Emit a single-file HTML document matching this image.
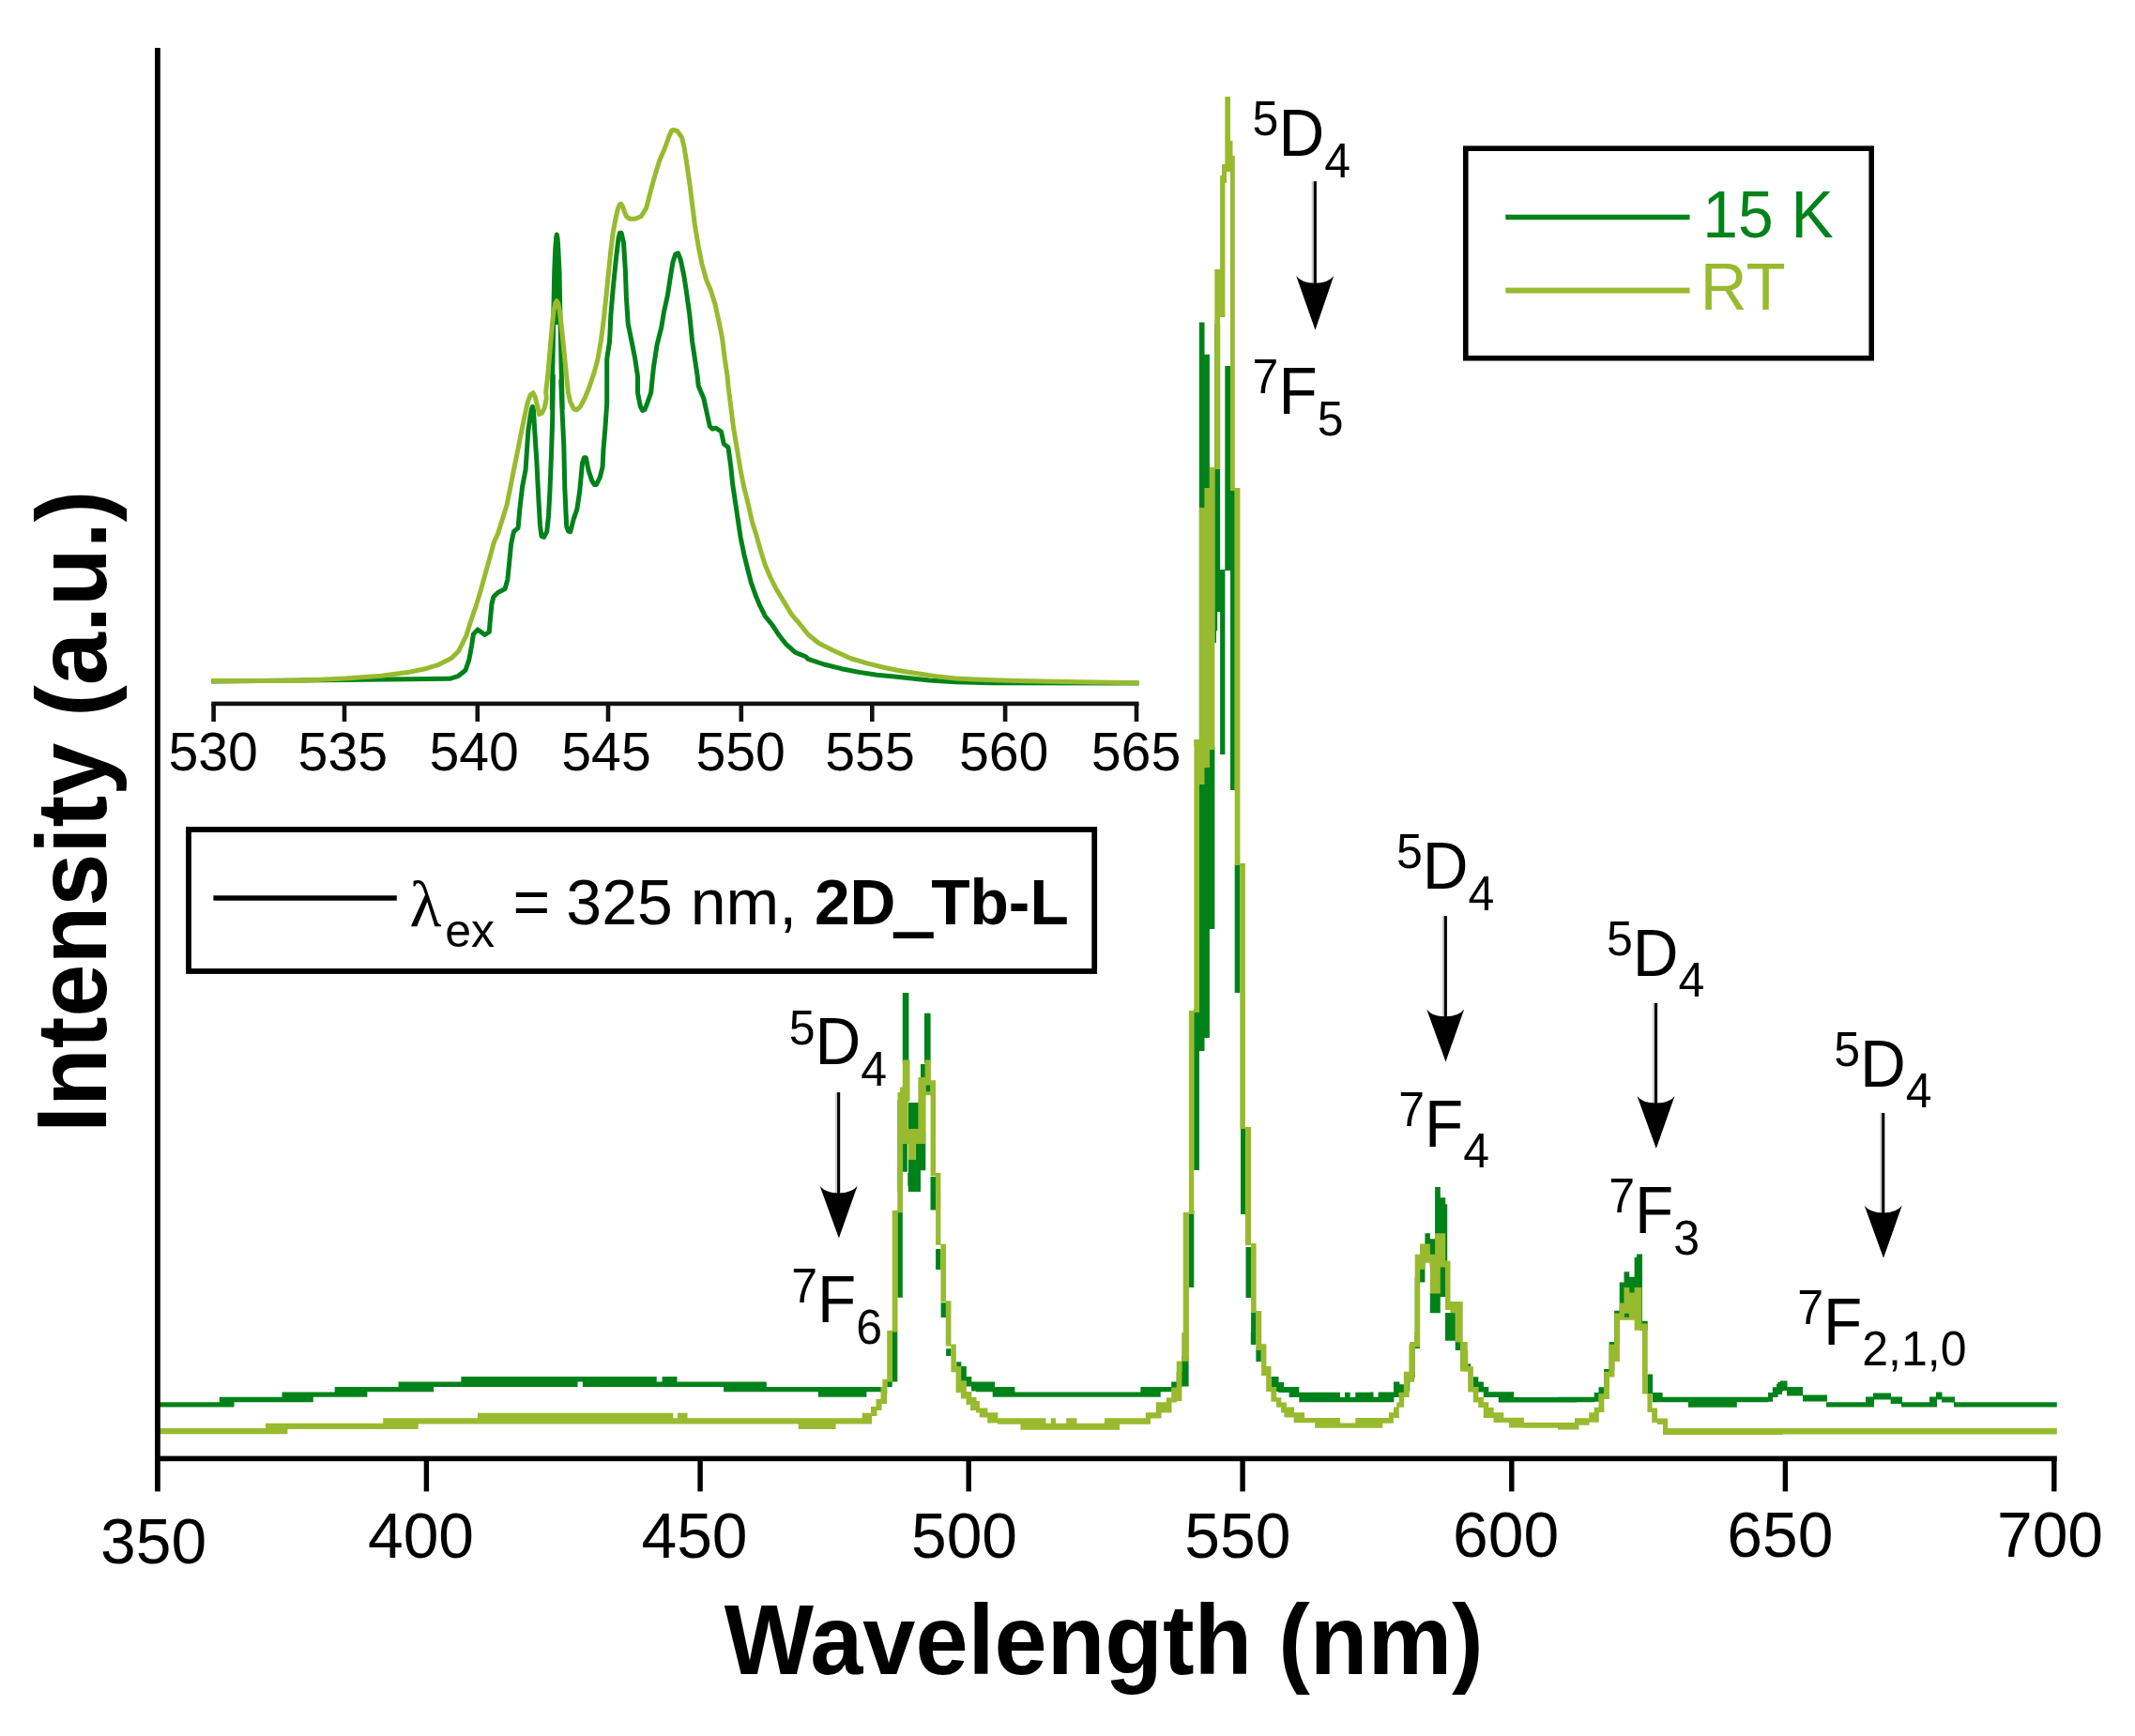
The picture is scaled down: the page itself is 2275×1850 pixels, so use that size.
<!DOCTYPE html>
<html lang="en">
<head>
<meta charset="utf-8">
<title>Emission spectra 2D_Tb-L</title>
<style>html,body{margin:0;padding:0;background:#fff}svg{display:block}</style>
</head>
<body>
<svg width="2275" height="1850" viewBox="0 0 2275 1850" font-family='"Liberation Sans", sans-serif' fill="#000">
<rect width="2275" height="1850" fill="#fff"/>
<path d="M168 1494.2H233.8V1499.6H168ZM233.8 1488.8H249.5V1499.6H233.8ZM249.5 1488.8H300.5V1494.2H249.5ZM300.5 1483.4H333.8V1494.2H300.5ZM333.8 1483.4H356.7V1488.8H333.8ZM356.7 1477.9H391.4V1488.8H356.7ZM391.4 1477.9H424.6V1483.3H391.4ZM424.6 1472.5H462.1V1483.3H424.6ZM462.1 1472.5H491.4V1477.9H462.1ZM491.4 1467.1H615.5V1477.9H491.4ZM615.5 1467.1H620.9V1472.5H615.5ZM620.9 1467.1H699.7V1477.9H620.9ZM699.7 1472.5H705.6V1477.9H699.7ZM705.6 1467.1H721.5V1477.9H705.6ZM721.5 1472.5H771.1V1477.9H721.5ZM771.1 1472.5H816.8V1483.3H771.1ZM816.8 1477.9H871.9V1483.3H816.8ZM871.9 1477.9H923.4V1488.8H871.9ZM923.4 1477.9H941V1483.3H923.4ZM930 1478.1H940.4V1483.2H930ZM945.2 1471.9H950.7V1478.1H945.2ZM950.7 1418H956.3V1472.6H950.7ZM956.3 1291.5H961.8V1382.7H956.3ZM967.3 1250H980.5V1263.8H967.3ZM991.5 1254.1H997.1V1289.4H991.5ZM997.1 1330.9H1002.4V1353H997.1ZM1002.6 1388.2H1008V1404.1H1002.6ZM1008.1 1437.3H1013.5V1444.9H1008.1ZM1019.2 1451.2H1024.3V1456.7H1019.2ZM1024 1456H1029.8V1471.9H1024ZM1029.5 1467.1H1035.3V1477.4H1029.5ZM1035.1 1472.6H1046.4V1482.5H1035.1ZM1046.1 1477.4H1051.7V1482.5H1046.1ZM961.8 1057.9H968.4V1132.7H961.8ZM985 1079.7H991.6V1132.7H985ZM981 1134.1H986.3V1148H981ZM986.3 1155.9H991.6V1163.9H986.3ZM967.8 1175.1H981V1203H967.8ZM981 1208.3H986.3V1240.1H981ZM975.7 1218.9H986.3V1247.3H975.7ZM967.8 1236.1H981V1270H967.8ZM961.8 1218.9H966.8V1248.7H961.8ZM992 1254.6H996.9V1270H992ZM956.5 1172.5H961.8V1270H956.5ZM1046 1472.5H1060V1483.3H1046ZM1040 1472.5H1046.1V1483.3H1040ZM1046.1 1477.9H1057.7V1483.3H1046.1ZM1057.7 1477.9H1081.4V1488.8H1057.7ZM1081.4 1483.4H1215.4V1488.8H1081.4ZM1215.4 1477.9H1236.7V1488.8H1215.4ZM1236.7 1477.9H1248.2V1483.3H1236.7ZM1248.2 1472.6H1254V1481.5H1248.2ZM1253.7 1462H1259.5V1478H1253.7ZM1259.2 1445H1266.6V1477.5H1259.2ZM1266.9 1290H1272.3V1372H1266.9ZM1272.2 1075H1277.9V1247H1272.2ZM1277.8 343.5H1283.5V1120H1277.8ZM1283.4 377.7H1288.9V1106H1283.4ZM1288.7 796H1294.4V990H1288.7ZM1272.7 788H1278V795H1272.7ZM1294.3 345H1300.1V652H1294.3ZM1294.3 650H1297.2V672H1294.3ZM1294.3 670H1296V685H1294.3ZM1300.1 607H1305.4V804H1300.1ZM1305.3 390H1311V608H1305.3ZM1311 522H1315.8V842H1311ZM1315.7 921H1321.4V1058H1315.7ZM1322 1202H1327.6V1294H1322ZM1327.5 1329H1333.2V1383H1327.5ZM1333.1 1399H1338.5V1433H1333.1ZM1338.4 1435H1343.7V1451H1338.4ZM1332.8 1420H1338.4V1432.2H1332.8ZM1338.4 1437.3H1343.8V1450.2H1338.4ZM1354.5 1467.1H1362.5V1478.1H1354.5ZM1360 1472.9H1368.1V1483H1360ZM1362.3 1478.1H1384.3V1483.9H1362.3ZM1373.6 1483.7H1395.6V1489H1373.6ZM1384.3 1483.7H1427.9V1494.2H1384.3ZM1395.6 1488.9H1485V1494.2H1395.6ZM1433 1483.7H1438.7V1489.3H1433ZM1444.3 1483.7H1463V1489.3H1444.3ZM1468.6 1483.7H1485V1489.3H1468.6ZM1485 1472.5H1490.8V1489H1485ZM1490.7 1475.3H1496V1483.9H1490.7ZM1460 1483.6H1463.5V1494H1460ZM1463.5 1488.8H1469.5V1494H1463.5ZM1469.5 1483.6H1485.4V1494H1469.5ZM1485.1 1472.4H1491.4V1484H1485.1ZM1491.1 1475.9H1496.6V1489.2H1491.1ZM1496.3 1464.6H1502.3V1481.9H1496.3ZM1502.3 1433.5H1507.7V1468.1H1502.3ZM1507.7 1361H1513V1437H1507.7ZM1513 1336.8H1518.4V1366.5H1513ZM1518.4 1314.3H1523.9V1343.7H1518.4ZM1523.8 1320.3H1529.3V1350.6H1523.8ZM1529.1 1265.1H1534.8V1378.2H1529.1ZM1534.6 1276.3H1540.2V1382H1534.6ZM1540 1283.2H1542.2V1343.7H1540ZM1523.8 1376.5H1534.8V1399.3H1523.8ZM1540 1399H1550.9V1428.7H1540ZM1550.7 1428.3H1556.2V1439H1550.7ZM1556.1 1438.7H1563.7V1457.7H1556.1ZM1564.2 1453.2H1567.1V1456.4H1564.2ZM1569.8 1467.3H1575.3V1478.1H1569.8ZM1575.2 1472.6H1580.9V1483.4H1575.2ZM1580.8 1477.9H1586.3V1489H1580.8ZM1586.1 1483.3H1596.9V1489H1586.1ZM1596.8 1483.3H1613.2V1494.4H1596.8ZM1613.1 1488.9H1680V1494.4H1613.1ZM1680 1488.8H1698.7V1494.2H1680ZM1660 1488.7H1699V1494.2H1660ZM1698.7 1483.9H1703.8V1493.8H1698.7ZM1703.5 1478.3H1709.4V1486.2H1703.5ZM1709.1 1459H1714.6V1479.7H1709.1ZM1714.6 1430H1720.3V1460.4H1714.6ZM1720.1 1396.8H1725.8V1432.7H1720.1ZM1725.7 1366.4H1730.6V1399.5H1725.7ZM1730.5 1355.3H1736.2V1404H1730.5ZM1736 1360.8H1741.7V1382.9H1736ZM1741.6 1340.1H1744.6V1382.9H1741.6ZM1744.1 1336.6H1750V1408.1H1744.1ZM1747.1 1407.8H1755.7V1417.8H1747.1ZM1755.4 1464.5H1761.1V1485.5H1755.4ZM1760.9 1483.9H1771.6V1494.2H1760.9ZM1771.3 1488.7H1798.9V1494.2H1771.3ZM1798.9 1488.7H1850.8V1499.8H1798.9ZM1850.8 1488.7H1884.2V1494.2H1850.8ZM1884 1483.9H1889.1V1493.8H1884ZM1888.8 1478.3H1894.6V1489H1888.8ZM1894.3 1472.8H1900V1482.8H1894.3ZM1897 1471.5H1904.5V1482H1897ZM1893 1475H1899V1486H1893ZM1904 1478H1921V1487.5H1904ZM1921 1486.5H1947V1493.5H1921ZM1946 1494.2H1989V1499.6H1946ZM1988 1488.5H1997V1499.6H1988ZM1996 1484.5H2015V1491.5H1996ZM2014.6 1488.5H2027V1496H2014.6ZM2026 1494.2H2057V1499.6H2026ZM2056 1488.5H2064V1499.6H2056ZM2063 1483.5H2069.5V1491.5H2063ZM2069 1488.5H2083V1494.5H2069ZM2082 1494.2H2191.8V1499.6H2082Z" fill="#00821a"/>
<path d="M168 1522.1H283V1528.3H168ZM283 1516.7H306.4V1528.3H283ZM306.4 1516.7H408.2V1522.9H306.4ZM408.2 1511.3H445.7V1522.9H408.2ZM445.7 1511.3H509V1517.5H445.7ZM509 1505.8H717.3V1517.5H509ZM717.3 1511.3H722V1517.5H717.3ZM722 1505.8H732.5V1517.5H722ZM732.5 1511.3H850.8V1517.5H732.5ZM850.8 1511.3H890.6V1522.9H850.8ZM890.6 1511.3H918.7V1517.5H890.6ZM918.7 1505.8H929V1517.5H918.7ZM928 1499H934.5V1509H928ZM933.5 1491H939.5V1503H933.5ZM938.5 1478H945.2V1496H938.5ZM940.4 1469.8H945.5V1485H940.4ZM945.2 1418H951V1472.6H945.2ZM950.7 1290.1H956.5V1419.4H950.7ZM956.3 1250H962.1V1292.2H956.3ZM997.1 1250H1002.4V1326.7H997.1ZM1002.4 1325.8H1008V1387.6H1002.4ZM1007.8 1386.2H1013.5V1434.6H1007.8ZM1013.4 1432.5H1018.8V1462.2H1013.4ZM1018.6 1456H1024.3V1484.3H1018.6ZM1024 1471.2H1029.8V1490.6H1024ZM1029.5 1483.6H1035.3V1493.3H1029.5ZM956.5 1163.9H962.1V1270H956.5ZM959.1 1158.6H962.1V1164.5H959.1ZM961.8 1129.4H967.6V1218.9H961.8ZM967.4 1129.4H969.5V1173.8H967.4ZM956.5 1203H986.3V1218.9H956.5ZM967.6 1218.9H969.7V1236.1H967.6ZM969.7 1203H975.7V1236.1H969.7ZM978.4 1148H986.6V1208.9H978.4ZM985.6 1129.4H991.9V1156.6H985.6ZM986.3 1163.2H991.9V1167.2H986.3ZM991.6 1151.3H997V1253.3H991.6ZM996.9 1252H1002.3V1270H996.9ZM1029.5 1483H1035.2V1497H1029.5ZM1034 1489H1040.5V1503H1034ZM1040 1493.1H1043.9V1505.5H1040ZM1043.7 1500.4H1052.4V1510.4H1043.7ZM1052.2 1505.2H1063.4V1516.5H1052.2ZM1063.1 1511.3H1087.7V1517.7H1063.1ZM1087.5 1511.3H1114.5V1523.8H1087.5ZM1114.3 1516.8H1120V1523.8H1114.3ZM1119.8 1511.3H1124.9V1523.8H1119.8ZM1124.6 1516.8H1136.5V1523.8H1124.6ZM1136.2 1511.3H1147.4V1523.8H1136.2ZM1147.2 1516.8H1177.2V1523.8H1147.2ZM1177 1511.3H1193.1V1523.8H1177ZM1192.8 1511.3H1221.1V1517.7H1192.8ZM1220.8 1505.2H1226V1517.7H1220.8ZM1225.7 1505.2H1237.5V1511.6H1225.7ZM1231.8 1494.3H1248.5V1505.5H1231.8ZM1242.8 1489.4H1254V1494.5H1242.8ZM1248.2 1478.5H1259.4V1493.1H1248.2ZM1253.7 1450.4H1259.4V1483.6H1253.7ZM1259.2 1420H1266.8V1450.7H1259.2ZM1260.7 1292H1266.9V1450H1260.7ZM1266.9 1077H1272.3V1294H1266.9ZM1272.4 788H1278V1079H1272.4ZM1278 541H1283.5V836H1278ZM1283.4 520H1289V818H1283.4ZM1288.9 498H1294.4V799H1288.9ZM1294.3 287H1300.1V500H1294.3ZM1294.3 287H1305.4V338H1294.3ZM1300.1 187H1305.4V290H1300.1ZM1302 175H1307V195H1302ZM1305.3 102.9H1311V183H1305.3ZM1309 150H1313.5V175H1309ZM1311 166H1315.8V523H1311ZM1315.7 520H1321.4V922H1315.7ZM1321.3 920H1326.9V1203H1321.3ZM1326.9 1201H1333.1V1327H1326.9ZM1333.1 1325H1338.6V1399H1333.1ZM1338.4 1397H1344.2V1439H1338.4ZM1338.4 1420H1344.2V1438.7H1338.4ZM1344.1 1432.2H1349.4V1466.1H1344.1ZM1349.2 1456.1H1354.5V1483H1349.2ZM1354.4 1478.1H1360.2V1493.7H1354.4ZM1360 1489.3H1365.3V1499.8H1360ZM1365.1 1494.5H1370.9V1505.4H1365.1ZM1368.4 1499.6H1378.9V1510.6H1368.4ZM1378.7 1505.2H1390.1V1516.2H1378.7ZM1390 1510.9H1401.4V1516.2H1390ZM1401.2 1510.9H1427.9V1521.8H1401.2ZM1427.9 1516.5H1444.5V1521.8H1427.9ZM1444.3 1510.9H1473.3V1521.8H1444.3ZM1473.3 1510.9H1484.8V1516.7H1473.3ZM1479.9 1505.2H1490.8V1511.1H1479.9ZM1485 1499.6H1490.8V1511.1H1485ZM1488.3 1494.5H1496V1499.8H1488.3ZM1490.7 1483.7H1496V1499.8H1490.7ZM1495.8 1461.7H1501.6V1489H1495.8ZM1501.4 1432.2H1507.2V1472.6H1501.4ZM1507 1420H1512.4V1434.2H1507ZM1496.8 1462H1507V1472.7H1496.8ZM1496.8 1462H1501.8V1485.4H1496.8ZM1502.3 1430.1H1507.9V1464.6H1502.3ZM1507.7 1336.8H1513.2V1435.6H1507.7ZM1507.7 1336.8H1518.6V1352.7H1507.7ZM1513 1325.5H1523.9V1344H1513ZM1518.4 1336.8H1529.3V1345.7H1518.4ZM1523.8 1336.8H1529.3V1378.6H1523.8ZM1529.1 1314.3H1534.8V1378.6H1529.1ZM1534.6 1314.3H1540.2V1350.6H1534.6ZM1540 1343.7H1545.5V1395.9H1540ZM1545.4 1386.9H1551.1V1399.3H1545.4ZM1550.7 1386.9H1558.7V1430.4H1550.7ZM1556.1 1430.1H1563.8V1461.5H1556.1ZM1560 1440H1564.3V1461.8H1560ZM1564.2 1456.3H1569.9V1483.4H1564.2ZM1569.8 1477.9H1575.3V1494.4H1569.8ZM1575.2 1488.9H1580.9V1500H1575.2ZM1580.8 1494.2H1586.3V1510.9H1580.8ZM1586.1 1499.9H1591.6V1510.9H1586.1ZM1591.5 1505.2H1602.3V1516H1591.5ZM1602.2 1510.8H1608.2V1516H1602.2ZM1608.1 1510.8H1623.9V1521.6H1608.1ZM1623.8 1515.9H1680V1521.8H1623.8ZM1660 1516.6H1682.4V1523.4H1660ZM1678 1511.2H1693.5V1518.7H1678ZM1693.2 1505.3H1703.8V1515.7H1693.2ZM1698.7 1499.8H1703.8V1510.4H1698.7ZM1703.5 1485.3H1709.4V1504.9H1703.5ZM1709.1 1461.8H1714.9V1491.1H1709.1ZM1709.1 1461.8H1719.7V1467.6H1709.1ZM1714.6 1432.7H1720.4V1467.6H1714.6ZM1714.6 1432.7H1725.3V1451H1714.6ZM1720.1 1399.5H1725.9V1451H1720.1ZM1725.7 1388.5H1730.8V1406.7H1725.7ZM1730.5 1371.9H1736.3V1399.8H1730.5ZM1736 1377.4H1741.8V1406.7H1736ZM1730.8 1403.7H1736.3V1406.7H1730.8ZM1741.6 1371.9H1749.4V1417.8H1741.6ZM1747.1 1410.6H1755.7V1417.8H1747.1ZM1749.9 1410.6H1755.7V1485.5H1749.9ZM1755.4 1485.3H1760.5V1504.9H1755.4ZM1760.2 1500.5H1766V1515.9H1760.2ZM1765.8 1511.5H1777.1V1518H1765.8ZM1772 1511.5H1777.1V1529.1H1772ZM1776.8 1521.9H1900V1529.1H1776.8ZM1898 1521.9H2191.8V1528.6H1898Z" fill="#98ba2e"/>
<polyline points="225.3,726.1 479.2,723.3 488.5,720.3 496,714.3 499.8,703.1 502.6,688.1 504.4,675.9 509.1,670.9 516.6,676.5 521.3,673.5 522.2,662.3 524,643.6 525.9,636.1 530.6,631.4 538.1,627.6 540.9,617.3 542.8,598.6 544.6,579.9 547.4,566.7 552.1,562.6 553.8,542.7 556.6,518.8 560.1,500.5 561.5,479.4 562.9,458.4 565,444.3 566.4,435.9 567.4,433.3 568.4,436.6 569.2,449.9 570.6,472.4 572,493.5 573,514.6 574.1,535.6 575.5,560 577,571.4 579.7,572.4 582.7,566.7 584.5,549.9 586,521.8 587.5,484.3 588.7,446.8 589.4,400 588.3,435.6 588.7,399.4 589.4,363.1 590,326.8 590.7,290.5 591.7,266.3 592.6,254.2 593.3,250 594.1,254.2 594.9,266.3 596.1,290.5 596.7,326.8 597.5,363.1 598.3,399.4 599.3,435.6 597.8,405.6 599,437.5 600.8,474.9 601.8,519.9 603.7,561.1 605.5,565.8 607.8,566.7 611.1,553.6 614.9,542.4 617.7,523.7 620.5,493.7 622.4,487.7 624.3,487.7 627.1,501.2 630.8,512.4 633.3,516.5 635.5,516.5 639.3,508.7 642.1,497.4 643,478.7 644.9,456.2 646.7,430 646.7,382.3 649.6,363.6 650.9,335.5 653.3,307.4 656.1,279.3 658.9,254.9 660.4,248.3 662.1,248.3 664.5,258.6 666.4,288.6 667.4,316.7 669.2,344.8 673,363.6 676.7,382.3 679.5,401 679.5,418.7 682.3,432.8 684.6,437.5 687,436.5 688.9,431.9 693.6,418.7 696.4,391.7 700.1,367.3 704.8,348.6 707.6,331.7 711.4,314.8 714.2,296.1 717,279.3 719.8,270.8 722.6,269.9 725.4,277.4 729.2,296.1 732,314.8 734.8,335.5 737.6,363.6 740.4,382.3 743.2,401 744.2,411.2 749.8,424.4 753.5,441.2 756.3,454.3 759.2,457.1 762.9,456.2 768.5,460 771.3,473.1 776,476.8 778.8,497.4 780.7,516.2 783.5,534.9 786.3,553.6 789.1,572.4 792.9,591.1 796.6,606.1 800.4,621.1 805.1,634.2 809.7,645.4 815.4,656.7 822.9,666 830.4,677.3 837.8,686.7 847.2,695.1 858.5,699.8 861.2,702.4 878.1,708 896.8,712.7 915.6,716.4 934.3,719.3 953,721.1 971.8,723 990.5,724.9 1018.6,726.7 1056.1,727.7 1213.5,728.1" fill="none" stroke="#00821a" stroke-width="5" stroke-linejoin="round" stroke-linecap="butt"/>
<polyline points="593.3,252.4 593.3,314.7 593.6,346.1" fill="none" stroke="#00821a" stroke-width="4" stroke-linejoin="round" stroke-linecap="butt"/>
<polyline points="225.3,725.6 316.2,725.6 368.6,723.1 406.1,720.3 434.2,716.6 452.9,712.8 467.9,708.1 481,701.6 488.5,694.1 489.4,692.3 496.9,677.3 501.5,662.3 507.4,645.4 512.4,628.6 517.1,611.7 521.8,594.8 526.3,578 530.6,568.6 535.3,553.6 540,538.6 543.7,519.9 547.4,501.2 551.2,482.4 554.9,463.7 558.7,445 562.4,428.1 565.2,421 568.1,418.7 570.3,423.4 572.2,430.9 574.6,441.6 577.4,440.3 580.2,434.7 582.3,424.4 581.7,417.5 583.8,399.4 585.4,381.2 586.9,363.1 588.4,346.1 590.2,330.4 591.8,323.1 593.2,320.7 594.7,323.1 596.2,330.4 598.1,346.1 599.9,363.1 601.7,381.2 603.5,399.4 605.3,417.5 607.7,428.4 611.4,435.6 614.4,436.9 618.6,433.2 623.5,423.5 628.3,411.5 633.1,396.9 636.8,383.6 640.4,363.1 642.8,344.9 645.8,316.7 648.1,294.2 650.5,269.9 653.3,247.4 656.1,232.4 658.5,222.1 660.2,218 661.7,217.4 663.6,220.2 665.5,225.9 667.4,230.5 671.1,233.3 676.7,233.3 683.3,230.5 688.9,221.2 693.6,202.4 698.3,185.6 703,170.6 708.6,157.5 713.3,144.4 715.7,139.1 717.9,138.4 721.7,139.7 726.4,146.2 729.2,157.5 732,176.2 734.8,194.9 737.6,217.4 740.4,239.9 744.2,262.4 747.9,281.1 752.6,298 757.3,309.2 762,324.2 765.7,341.1 769.5,359.8 772.3,382.3 775.1,401 776,411.2 778.8,433.7 781.6,456.2 785.4,478.7 789.1,501.2 792.9,519.9 797.6,538.6 801.3,555.5 806,570.5 810.7,587.4 815.4,602.3 821,615.5 826.6,626.7 832.2,636.1 837.8,645.4 843.5,654.8 850,662.3 861.2,676.2 872.5,685.5 887.5,693 906.2,701.5 924.9,707.1 943.7,711.8 962.4,715.5 981.1,718.3 999.9,721.1 1018.6,723 1037.4,723.9 1065.5,724.9 1093.6,725.8 1149.8,726.7 1213.5,727.7" fill="none" stroke="#98ba2e" stroke-width="5" stroke-linejoin="round" stroke-linecap="butt"/>
<rect x="165" y="51" width="5.8" height="1538.4" fill="#000"/>
<rect x="165" y="1551.6" width="2026.8" height="5.6" fill="#000"/>
<rect x="451.7" y="1555" width="5.4" height="34.4" fill="#000"/>
<rect x="743.4" y="1555" width="5.4" height="34.4" fill="#000"/>
<rect x="1029.5" y="1555" width="5.4" height="34.4" fill="#000"/>
<rect x="1321.4" y="1555" width="5.4" height="34.4" fill="#000"/>
<rect x="1608.1" y="1555" width="5.4" height="34.4" fill="#000"/>
<rect x="1899.7" y="1555" width="5.4" height="34.4" fill="#000"/>
<rect x="2186.1" y="1555" width="5.4" height="34.4" fill="#000"/>
<text x="163.6" y="1665.6" font-size="67.8" text-anchor="middle">350</text>
<text x="448.5" y="1660" font-size="67.8" text-anchor="middle">400</text>
<text x="740" y="1659.5" font-size="67.8" text-anchor="middle">450</text>
<text x="1027.5" y="1659.5" font-size="67.8" text-anchor="middle">500</text>
<text x="1318.9" y="1659.5" font-size="67.8" text-anchor="middle">550</text>
<text x="1604.6" y="1658.7" font-size="67.8" text-anchor="middle">600</text>
<text x="1896.9" y="1658.7" font-size="67.8" text-anchor="middle">650</text>
<text x="2184.5" y="1658.7" font-size="67.8" text-anchor="middle">700</text>
<text transform="translate(1176.2 1784.4) scale(1 1.04)" font-size="100.9" font-weight="bold" text-anchor="middle">Wavelength (nm)</text>
<text transform="translate(112.9 864.8) rotate(-90) scale(1 1.04)" font-size="101" font-weight="bold" text-anchor="middle">Intensity (a.u.)</text>
<rect x="225.3" y="747.6" width="988.2" height="4.6" fill="#111"/>
<rect x="225.3" y="750" width="4.6" height="19" fill="#111"/>
<rect x="364.7" y="750" width="4.6" height="19" fill="#111"/>
<rect x="506.5" y="750" width="4.6" height="19" fill="#111"/>
<rect x="645.7" y="750" width="4.6" height="19" fill="#111"/>
<rect x="787.5" y="750" width="4.6" height="19" fill="#111"/>
<rect x="927" y="750" width="4.6" height="19" fill="#111"/>
<rect x="1068.8" y="750" width="4.6" height="19" fill="#111"/>
<rect x="1208.7" y="750" width="4.6" height="19" fill="#111"/>
<text x="227.2" y="820.8" font-size="57.2" text-anchor="middle">530</text>
<text x="365.3" y="820.8" font-size="57.2" text-anchor="middle">535</text>
<text x="505.1" y="820.8" font-size="57.2" text-anchor="middle">540</text>
<text x="646" y="820.8" font-size="57.2" text-anchor="middle">545</text>
<text x="789.2" y="820.8" font-size="57.2" text-anchor="middle">550</text>
<text x="927" y="820.8" font-size="57.2" text-anchor="middle">555</text>
<text x="1069.6" y="820.8" font-size="57.2" text-anchor="middle">560</text>
<text x="1210.5" y="820.8" font-size="57.2" text-anchor="middle">565</text>
<rect x="1561.8" y="158.2" width="432.4" height="223.5" fill="none" stroke="#000" stroke-width="5.6"/>
<rect x="1604.3" y="228.7" width="196.2" height="5.5" fill="#00821a"/>
<rect x="1604.3" y="306.6" width="196.2" height="5.9" fill="#98ba2e"/>
<text transform="translate(1814.3 252.6) scale(1 1.045)" font-size="67.8" fill="#00821a">15 K</text>
<text transform="translate(1811.8 329.9) scale(1 1.03)" font-size="69" fill="#98ba2e">RT</text>
<rect x="201" y="884" width="965.2" height="151" fill="none" stroke="#000" stroke-width="5.8"/>
<rect x="227.4" y="954.3" width="195.4" height="5.4" fill="#000"/>
<text x="436" y="985.2" font-size="68"><tspan font-family="'Liberation Serif', serif" font-size="70" dx="0.5" dy="2">λ</tspan><tspan font-size="50" dx="3.7" dy="21.7">ex</tspan><tspan dy="-23.7" dx="0.6"> = </tspan><tspan dx="-1.7">325 nm, </tspan><tspan font-weight="bold" font-size="67.7">2D<tspan dy="4.4" stroke="#000" stroke-width="4.2">_</tspan><tspan dy="-4.4">Tb-L</tspan></tspan></text>
<text transform="translate(1334.6 165.9) scale(1 1.04)" font-size="67.5"><tspan font-size="50" dy="-20.9">5</tspan><tspan dy="20.9">D</tspan><tspan font-size="50" dy="21.8">4</tspan></text>
<rect x="1397.7" y="193.2" width="2.1" height="108.5" fill="#ccc"/>
<rect x="1399.8" y="193.2" width="3.1" height="112.5" fill="#000"/>
<path d="M1381.2 294.1 Q1386.8 301.7 1401.2 301.7 Q1415.6 301.7 1421.2 294.1 L1401.5 351.8 Z" fill="#000"/>
<text transform="translate(1334.6 441) scale(1 1.04)" font-size="67.5"><tspan font-size="50" dy="-20.9">7</tspan><tspan dy="20.9">F</tspan><tspan font-size="50" dy="21.8">5</tspan></text>
<text transform="translate(840.8 1134.4) scale(1 1.04)" font-size="67.5"><tspan font-size="50" dy="-20.9">5</tspan><tspan dy="20.9">D</tspan><tspan font-size="50" dy="21.8">4</tspan></text>
<rect x="890.1" y="1164.1" width="2.1" height="107.3" fill="#ccc"/>
<rect x="892.1" y="1164.1" width="3.1" height="111.3" fill="#000"/>
<path d="M873.6 1263.8 Q879.2 1271.4 893.6 1271.4 Q908 1271.4 913.6 1263.8 L893.9 1319.5 Z" fill="#000"/>
<text transform="translate(843.2 1409.4) scale(1 1.04)" font-size="67.5"><tspan font-size="50" dy="-20.9">7</tspan><tspan dy="20.9">F</tspan><tspan font-size="50" dy="21.8">6</tspan></text>
<text transform="translate(1487.9 947.1) scale(1 1.04)" font-size="67.5"><tspan font-size="50" dy="-20.9">5</tspan><tspan dy="20.9">D</tspan><tspan font-size="50" dy="21.8">4</tspan></text>
<rect x="1536.7" y="976" width="2.1" height="107.2" fill="#ccc"/>
<rect x="1538.8" y="976" width="3.1" height="111.2" fill="#000"/>
<path d="M1520.2 1075.6 Q1525.8 1083.2 1540.2 1083.2 Q1554.6 1083.2 1560.2 1075.6 L1540.5 1131.4 Z" fill="#000"/>
<text transform="translate(1490.3 1221.8) scale(1 1.04)" font-size="67.5"><tspan font-size="50" dy="-20.9">7</tspan><tspan dy="20.9">F</tspan><tspan font-size="50" dy="21.8">4</tspan></text>
<text transform="translate(1711.9 1039.8) scale(1 1.04)" font-size="67.5"><tspan font-size="50" dy="-20.9">5</tspan><tspan dy="20.9">D</tspan><tspan font-size="50" dy="21.8">4</tspan></text>
<rect x="1761" y="1069" width="2.1" height="106.6" fill="#ccc"/>
<rect x="1763" y="1069" width="3.1" height="110.6" fill="#000"/>
<path d="M1744.5 1168 Q1750.1 1175.6 1764.5 1175.6 Q1778.9 1175.6 1784.5 1168 L1764.8 1224.1 Z" fill="#000"/>
<text transform="translate(1714.3 1314.2) scale(1 1.04)" font-size="67.5"><tspan font-size="50" dy="-20.9">7</tspan><tspan dy="20.9">F</tspan><tspan font-size="50" dy="21.8">3</tspan></text>
<text transform="translate(1954.2 1157.6) scale(1 1.04)" font-size="67.5"><tspan font-size="50" dy="-20.9">5</tspan><tspan dy="20.9">D</tspan><tspan font-size="50" dy="21.8">4</tspan></text>
<rect x="2003.2" y="1186" width="2.1" height="106.4" fill="#ccc"/>
<rect x="2005.2" y="1186" width="3.1" height="110.4" fill="#000"/>
<path d="M1986.7 1284.8 Q1992.3 1292.4 2006.7 1292.4 Q2021.1 1292.4 2026.7 1284.8 L2007 1340.8 Z" fill="#000"/>
<text transform="translate(1915.2 1432.6) scale(1 1.04)" font-size="67.5"><tspan font-size="50" dy="-20.9">7</tspan><tspan dy="20.9">F</tspan><tspan font-size="50" dy="21.8">2,1,0</tspan></text>
</svg>
</body>
</html>
